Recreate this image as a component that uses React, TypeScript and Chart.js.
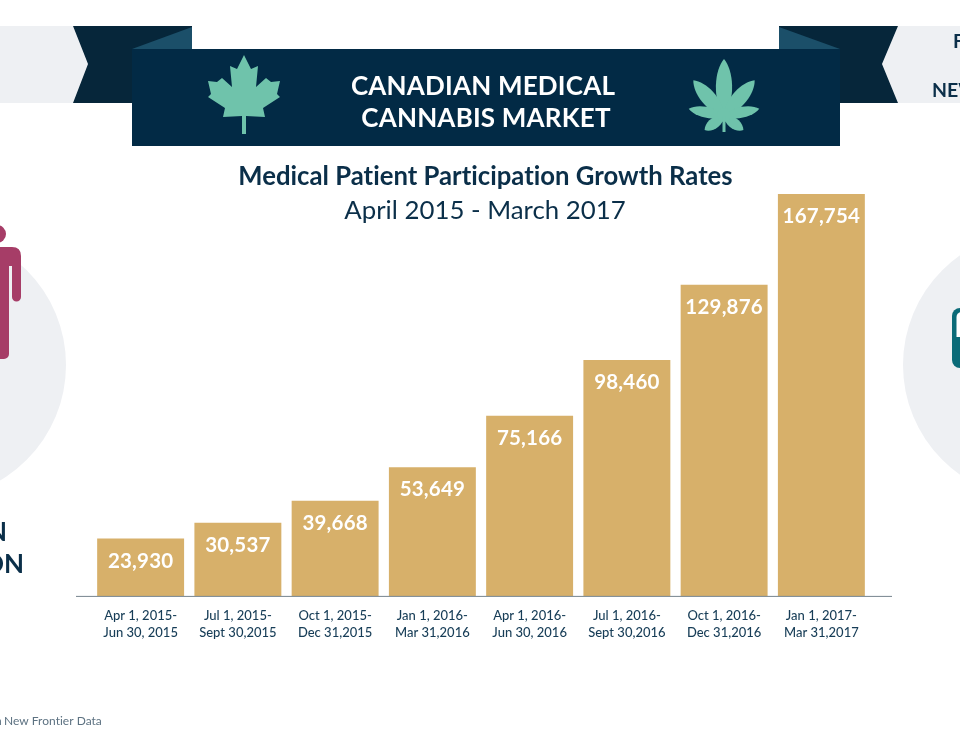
import React, { useEffect, useRef } from "react";
import { Chart, registerables } from "chart.js";

Chart.register(...registerables);

const periods = [
  ["Apr 1, 2015-", "Jun 30, 2015"],
  ["Jul 1, 2015-", "Sept 30,2015"],
  ["Oct 1, 2015-", "Dec 31,2015"],
  ["Jan 1, 2016-", "Mar 31,2016"],
  ["Apr 1, 2016-", "Jun 30, 2016"],
  ["Jul 1, 2016-", "Sept 30,2016"],
  ["Oct 1, 2016-", "Dec 31,2016"],
  ["Jan 1, 2017-", "Mar 31,2017"],
];
const patients = [23930, 30537, 39668, 53649, 75166, 98460, 129876, 167754];

const NAVY = "#022a45";
const DARK = "#06263a";
const FOLD = "#1b4f69";
const MINT = "#6fc3ab";
const PALE = "#eef0f3";
const GOLD = "#d7b06a";
const INK = "#0b2f49";
const MAROON = "#a63d67";
const TEAL = "#0b6b78";
const FONT = "Lato, sans-serif";

function poly(ctx: CanvasRenderingContext2D, pts: number[][], fill: string) {
  ctx.fillStyle = fill;
  ctx.beginPath();
  pts.forEach(([x, y], i) => (i ? ctx.lineTo(x, y) : ctx.moveTo(x, y)));
  ctx.closePath();
  ctx.fill();
}

function text(
  ctx: CanvasRenderingContext2D,
  s: string,
  x: number,
  y: number,
  font: string,
  color: string,
  align: CanvasTextAlign = "center",
  spacing = "0.01px"
) {
  ctx.font = font;
  ctx.fillStyle = color;
  ctx.textAlign = align;
  ctx.textBaseline = "alphabetic";
  (ctx as any).letterSpacing = spacing;
  ctx.fillText(s, x, y);
  (ctx as any).letterSpacing = "0px";
}

function mapleLeaf(ctx: CanvasRenderingContext2D) {
  poly(
    ctx,
    [
      [244, 55], [251, 69], [258, 66], [256, 87], [266, 78], [271, 82], [280, 81],
      [277, 94], [280, 97], [263, 108], [265, 117], [246, 116], [246, 134],
      [242, 134], [242, 116], [223, 117], [225, 108], [208, 97], [211, 94],
      [208, 81], [217, 82], [222, 78], [232, 87], [230, 66], [237, 69],
    ],
    MINT
  );
}

function petal(ctx: CanvasRenderingContext2D, x: number, y: number, len: number, wid: number, rot: number) {
  ctx.save();
  ctx.translate(x, y);
  ctx.rotate(rot);
  ctx.beginPath();
  ctx.moveTo(0, 0);
  ctx.bezierCurveTo(wid, -len * 0.3, wid * 0.8, -len * 0.8, 0, -len);
  ctx.bezierCurveTo(-wid * 0.8, -len * 0.8, -wid, -len * 0.3, 0, 0);
  ctx.fill();
  ctx.restore();
}

function cannabisLeaf(ctx: CanvasRenderingContext2D) {
  const cx = 724;
  const cy = 116;
  ctx.fillStyle = MINT;
  petal(ctx, cx, cy, 57, 12, 0);
  petal(ctx, cx, cy, 47, 11, -0.71);
  petal(ctx, cx, cy, 47, 11, 0.71);
  petal(ctx, cx, cy, 36, 8, -1.37);
  petal(ctx, cx, cy, 36, 8, 1.37);
  petal(ctx, cx, cy, 24, 8, -2.2);
  petal(ctx, cx, cy, 24, 8, 2.2);
  ctx.beginPath();
  ctx.arc(cx, cy - 1, 7, 0, Math.PI * 2);
  ctx.fill();
  ctx.fillRect(cx - 1.5, cy, 3, 16);
}

function banner(ctx: CanvasRenderingContext2D) {
  poly(ctx, [[0, 26], [73, 26], [88, 64], [73, 103], [0, 103]], PALE);
  poly(ctx, [[960, 26], [898, 26], [882, 64], [898, 103], [960, 103]], PALE);
  poly(ctx, [[73, 26], [192, 26], [192, 60], [132, 103], [73, 103], [88, 64]], DARK);
  poly(ctx, [[898, 26], [779, 26], [779, 60], [840, 103], [898, 103], [882, 64]], DARK);
  poly(ctx, [[132, 49], [192, 27], [192, 49]], FOLD);
  poly(ctx, [[779, 27], [840, 49], [779, 49]], FOLD);
  ctx.fillStyle = NAVY;
  ctx.fillRect(132, 49, 708, 97);
  mapleLeaf(ctx);
  cannabisLeaf(ctx);
  text(ctx, "CANADIAN MEDICAL", 483, 95, `bold 26px ${FONT}`, "#ffffff", "center", "0.2px");
  text(ctx, "CANNABIS MARKET", 486, 127, `bold 26px ${FONT}`, "#ffffff", "center", "0.2px");
  text(ctx, "F", 953, 48, `bold 19.5px ${FONT}`, INK, "left");
  text(ctx, "NEW", 932, 97, `bold 19.5px ${FONT}`, INK, "left");
}

function sideArt(ctx: CanvasRenderingContext2D) {
  ctx.fillStyle = PALE;
  ctx.beginPath();
  ctx.arc(-68, 365, 134, 0, Math.PI * 2);
  ctx.fill();
  ctx.beginPath();
  ctx.arc(1037, 365, 134, 0, Math.PI * 2);
  ctx.fill();

  ctx.fillStyle = MAROON;
  ctx.beginPath();
  ctx.arc(-3, 234, 9, 0, Math.PI * 2);
  ctx.fill();
  ctx.beginPath();
  ctx.moveTo(0, 247);
  ctx.lineTo(12, 247);
  ctx.quadraticCurveTo(21, 247, 21, 256);
  ctx.lineTo(21, 297);
  ctx.arc(16.5, 297, 4.5, 0, Math.PI);
  ctx.lineTo(12, 266);
  ctx.lineTo(9, 266);
  ctx.lineTo(9, 354);
  ctx.arc(4, 354, 5, 0, Math.PI / 2);
  ctx.lineTo(0, 359);
  ctx.closePath();
  ctx.fill();

  ctx.fillStyle = TEAL;
  ctx.beginPath();
  ctx.roundRect(952, 308, 30, 60, 8);
  ctx.fill();
  ctx.fillStyle = "#ffffff";
  ctx.beginPath();
  ctx.roundRect(956.5, 312, 20, 25, [5, 5, 0, 0]);
  ctx.fill();

  text(ctx, "N", -13, 541, `bold 26px ${FONT}`, INK, "left");
  text(ctx, "ON", -17, 573, `bold 26px ${FONT}`, INK, "left");
  text(ctx, "n", -5, 725, `12px ${FONT}`, "#5d7282", "left");
  text(ctx, "New Frontier Data", 4, 725, `12px ${FONT}`, "#5d7282", "left");
}

const artPlugin = {
  id: "art",
  beforeDraw(chart: any) {
    const ctx = chart.ctx;
    ctx.save();
    banner(ctx);
    sideArt(ctx);
    ctx.restore();
  },
  afterDatasetsDraw(chart: any) {
    const ctx = chart.ctx;
    const { left, right, bottom } = chart.chartArea;
    ctx.save();
    ctx.strokeStyle = "#75838d";
    ctx.lineWidth = 1;
    ctx.beginPath();
    ctx.moveTo(left - 16, bottom + 0.5);
    ctx.lineTo(right + 22, bottom + 0.5);
    ctx.stroke();
    chart.getDatasetMeta(0).data.forEach((bar: any, i: number) => {
      const label = patients[i].toLocaleString("en-US");
      text(ctx, label, bar.x, bar.y + 29, `bold 20.5px ${FONT}`, "#ffffff", "center", "0.2px");
    });
    text(ctx, "Medical Patient Participation Growth Rates", 485.5, 185, `bold 25.7px ${FONT}`, INK);
    text(ctx, "April 2015 - March 2017", 485, 219, `25.8px ${FONT}`, INK);
    ctx.restore();
  },
};

export default function App() {
  const ref = useRef<HTMLCanvasElement>(null);
  useEffect(() => {
    const chart = new Chart(ref.current!, {
      type: "bar",
      data: {
        labels: periods,
        datasets: [
          {
            label: "Medical patients",
            data: patients,
            backgroundColor: GOLD,
            barPercentage: 0.894,
            categoryPercentage: 1,
          },
        ],
      },
      options: {
        responsive: false,
        animation: false,
        layout: { padding: { left: 92, right: 90, top: 194, bottom: 105 } },
        plugins: { legend: { display: false }, title: { display: false }, tooltip: { enabled: false } },
        scales: {
          x: {
            grid: { display: false },
            border: { display: false },
            ticks: {
              color: "#173d57",
              font: { family: FONT, size: 13, weight: "500" as any, lineHeight: 1.35 },
              maxRotation: 0,
              autoSkip: false,
              padding: 3,
            },
          },
          y: { display: false, min: 0, max: 167754 },
        },
      },
      plugins: [artPlugin],
    });
    return () => chart.destroy();
  }, []);
  return (
    <div style={{ position: "absolute", left: 0, top: 0, width: 960, height: 750, background: "#fff" }}>
      <canvas ref={ref} width={960} height={750} style={{ display: "block" }} />
    </div>
  );
}
